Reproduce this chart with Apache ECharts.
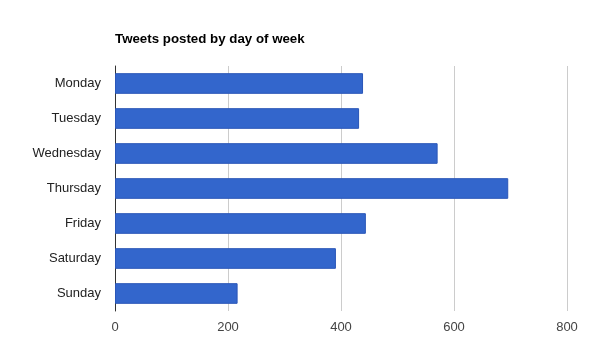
<!DOCTYPE html>
<html><head><meta charset="utf-8">
<script src="https://cdn.jsdelivr.net/npm/echarts@6/dist/echarts.min.js"></script>
<style>html,body{margin:0;padding:0;background:#fff}#c{width:600px;height:360px}</style>
</head><body><div id="c"></div>
<script>
var days = ["Monday","Tuesday","Wednesday","Thursday","Friday","Saturday","Sunday"];
var tweets = [439, 432, 571, 696, 444, 391, 217];
var xTicks = [0, 200, 400, 600, 800];

var chart = echarts.init(document.getElementById('c'));
chart.setOption({
  animation: false,
  title: {
    text: 'Tweets posted by day of week',
    left: 115, top: 33, padding: 0,
    textStyle: {fontFamily: 'Liberation Sans, Arial', fontSize: 13.3, fontWeight: 'bold', color: '#000'}
  },
  grid: {left: 115, right: 33, top: 66, bottom: 49, containLabel: false},
  xAxis: {
    type: 'value', min: xTicks[0], max: xTicks[xTicks.length-1], interval: xTicks[1]-xTicks[0],
    axisLine: {show: false}, axisTick: {show: false},
    splitLine: {lineStyle: {color: '#cccccc', width: 1}},
    axisLabel: {fontFamily: 'Liberation Sans, Arial', fontSize: 13, color: '#444', margin: 10}
  },
  yAxis: {
    type: 'category', data: days, inverse: true,
    axisLine: {lineStyle: {color: '#333', width: 1}},
    axisTick: {show: false},
    axisLabel: {fontFamily: 'Liberation Sans, Arial', fontSize: 13, color: '#222', margin: 14}
  },
  series: [{
    type: 'bar', data: tweets, barCategoryGap: '41%',
    itemStyle: {color: '#3366cc', borderColor: '#2a56b8', borderWidth: 1}
  }]
});
</script></body></html>
